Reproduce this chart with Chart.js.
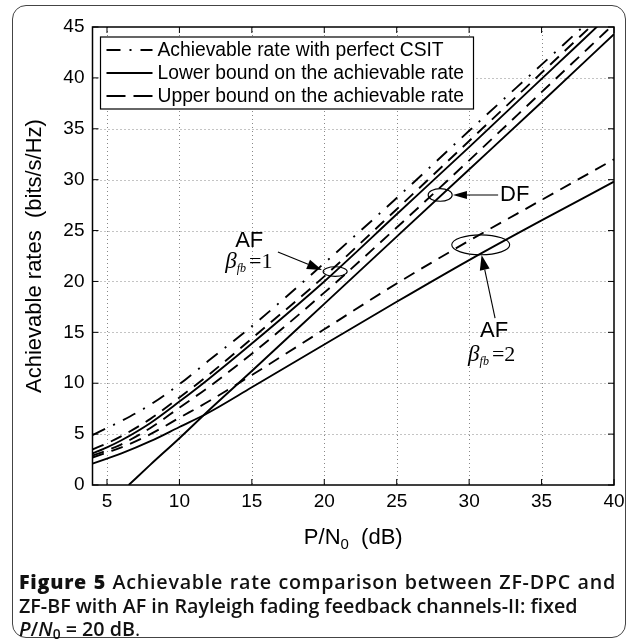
<!DOCTYPE html>
<html><head><meta charset="utf-8">
<script src="https://cdn.jsdelivr.net/npm/chart.js@4.4.0/dist/chart.umd.min.js"></script>
<style>
html,body{margin:0;padding:0;background:#fff;}
#wrap{position:relative;width:637px;height:640px;overflow:hidden;background:#fff;}
#frame{position:absolute;left:12px;top:5px;width:614px;height:633px;border:1.5px solid #444;border-radius:14px;box-sizing:border-box;}
#c{position:absolute;left:0;top:0;}
#cap{position:absolute;left:19px;width:597px;top:570px;font-family:'Open Sans',sans-serif;font-size:19.7px;line-height:23.5px;color:#111;font-weight:600;}
#cap .l{white-space:nowrap;}
#cap .j{text-align:justify;text-align-last:justify;letter-spacing:0.75px;}
#cap b{font-weight:800;}
#cap sub{font-size:70%;vertical-align:-3px;line-height:0;}
#cap .r{font-weight:400;}
</style></head>
<body><div id="wrap"><div id="frame"></div><canvas id="c" width="637" height="640" style="width:637px;height:640px"></canvas>
<div id="cap">
<div class="l j"><b>Figure 5</b> Achievable rate comparison between ZF-DPC and</div>
<div class="l">ZF-BF with AF in Rayleigh fading feedback channels-II: fixed</div>
<div class="l"><i>P</i>/<i>N</i><sub>0</sub> = 20 dB<span class="r">.</span></div>
</div></div>
<script>
// ---- data ----
const xTicks = [5, 10, 15, 20, 25, 30, 35, 40];
const yTicks = [0, 5, 10, 15, 20, 25, 30, 35, 40, 45];
const snr = [4, 5, 6, 8, 10, 12, 15, 20, 25, 30, 35, 40];
const csit     = [4.9, 5.6, 6.3, 7.9, 9.9, 12.2, 15.6, 21.8, 28.2, 34.8, 41.3, 47.8];
const af1Upper = [3.5, 4.1, 4.8, 6.5, 8.6, 10.8, 14.4, 20.5, 27.1, 33.8, 40.5, 47.2];
const af1Lower = [3.1, 3.7, 4.4, 6.1, 8.2, 10.4, 13.9, 20.0, 26.6, 33.2, 39.9, 46.6];
const dfUpper  = [2.9, 3.4, 4.0, 5.6, 7.6, 9.6, 12.9, 18.9, 25.3, 31.9, 38.6, 45.3];
const dfLowerSnr = [6.5, 8, 10, 12, 15, 20, 25, 30, 35, 40];
const dfLower  = [0, 2.0, 4.6, 7.3, 11.2, 17.8, 24.4, 31.0, 37.6, 44.3];
const af2Upper = [2.7, 3.2, 3.7, 5.0, 6.6, 8.2, 10.8, 15.3, 19.8, 24.0, 28.0, 32.0];
const af2Lower = [2.1, 2.6, 3.1, 4.3, 5.7, 7.1, 9.6, 13.8, 18.0, 22.1, 26.0, 29.8];
const legendLabels = ['Achievable rate with perfect CSIT', 'Lower bound on the achievable rate', 'Upper bound on the achievable rate'];

const DASH = [12, 8];
const DASHDOT = [14, 9, 2, 9];
const pts = (xs, ys) => xs.map((v, i) => ({x: v, y: ys[i]}));
function ds(xs, ys, dash) {
  return {data: pts(xs, ys), borderColor: '#000', borderWidth: 1.9, borderDash: dash, pointRadius: 0,
    fill: false, cubicInterpolationMode: 'monotone', clip: 0};
}

function line(ctx, x1, y1, x2, y2) { ctx.beginPath(); ctx.moveTo(x1, y1); ctx.lineTo(x2, y2); ctx.stroke(); }
function arrow(ctx, x1, y1, x2, y2, len, hw) {
  ctx.setLineDash([]); ctx.lineWidth = 1.1;
  const ang = Math.atan2(y2 - y1, x2 - x1);
  const bx = x2 - len * Math.cos(ang), by = y2 - len * Math.sin(ang);
  line(ctx, x1, y1, bx, by);
  ctx.beginPath(); ctx.moveTo(x2, y2);
  ctx.lineTo(bx + hw * Math.sin(ang), by - hw * Math.cos(ang));
  ctx.lineTo(bx - hw * Math.sin(ang), by + hw * Math.cos(ang));
  ctx.closePath(); ctx.fill();
}

const matlab = {
  id: 'matlab',
  beforeDatasetsDraw(chart) {
    const {ctx, chartArea: a, scales: {x, y}} = chart;
    ctx.save();
    ctx.strokeStyle = '#888'; ctx.lineWidth = 1; ctx.setLineDash([1, 3]);
    xTicks.forEach(v => { if (v <= 4 || v >= 40) return; const p = Math.round(x.getPixelForValue(v)) + 0.5; line(ctx, p, a.top, p, a.bottom); });
    yTicks.forEach(v => { if (v <= 0 || v >= 45) return; const p = Math.round(y.getPixelForValue(v)) + 0.5; line(ctx, a.left, p, a.right, p); });
    ctx.restore();
  },
  afterDatasetsDraw(chart) {
    const {ctx, chartArea: a, scales: {x, y}} = chart;
    const X = v => x.getPixelForValue(v), Y = v => y.getPixelForValue(v);
    ctx.save();
    ctx.setLineDash([]); ctx.strokeStyle = '#000'; ctx.fillStyle = '#000';
    // inward ticks
    ctx.lineWidth = 1;
    xTicks.forEach(v => { const p = X(v); line(ctx, p, a.bottom, p, a.bottom - 6); line(ctx, p, a.top, p, a.top + 6); });
    yTicks.forEach(v => { const p = Y(v); line(ctx, a.left, p, a.left + 6, p); line(ctx, a.right, p, a.right - 6, p); });
    // box
    ctx.lineWidth = 1.5;
    ctx.strokeRect(a.left, a.top, a.right - a.left, a.bottom - a.top);

    // legend
    const lx = a.left + 8, ly = a.top + 10, lw = 373, lh = 72;
    ctx.fillStyle = '#fff'; ctx.fillRect(lx, ly, lw, lh);
    ctx.lineWidth = 1.2; ctx.strokeStyle = '#000'; ctx.strokeRect(lx, ly, lw, lh);
    ctx.fillStyle = '#000';
    ctx.font = '19.3px "Liberation Sans", Arial, sans-serif';
    ctx.textBaseline = 'middle'; ctx.textAlign = 'left';
    const legDash = [[14, 9, 2, 9], [], [19, 8]];
    legendLabels.forEach((t, i) => {
      const cy = ly + 13 + i * 23;
      ctx.lineWidth = 1.9; ctx.setLineDash(legDash[i]);
      line(ctx, lx + 6, cy, lx + 52, cy);
      ctx.setLineDash([]);
      ctx.fillText(t, lx + 57, cy + 1);
    });

    // annotations
    ctx.lineWidth = 1.1; ctx.setLineDash([]);
    const ell = (cx, cy, rx, ry) => { ctx.beginPath(); ctx.ellipse(X(cx), Y(cy), Math.abs(X(cx + rx) - X(cx)), Math.abs(Y(cy + ry) - Y(cy)), 0, 0, Math.PI * 2); ctx.stroke(); };
    ell(20.75, 20.97, 0.83, 0.47);
    ell(28.0, 28.5, 0.83, 0.62);
    ell(30.8, 23.6, 2.0, 0.98);
    arrow(ctx, X(16.8), Y(22.9), X(19.84), Y(21.12), 15, 5);
    arrow(ctx, X(32.0), Y(28.5), X(28.88), Y(28.5), 14, 4);
    arrow(ctx, X(31.79), Y(16.4), X(30.86), Y(22.6), 15, 5);

    ctx.textBaseline = 'middle'; ctx.textAlign = 'center';
    ctx.font = '22px "Liberation Sans", Arial, sans-serif';
    ctx.fillText('AF', X(14.82), Y(23.97));
    ctx.fillText('DF', X(33.15), Y(28.49));
    ctx.fillText('AF', X(31.72), Y(15.12));
    const beta = (x0, y0, val) => {
      ctx.textAlign = 'left'; ctx.textBaseline = 'alphabetic';
      let px = X(x0), py = Y(y0);
      ctx.font = 'italic 23px "Liberation Serif", "Times New Roman", serif';
      ctx.fillText('\u03b2', px, py); px += ctx.measureText('\u03b2').width;
      ctx.font = 'italic 12px "Liberation Serif", "Times New Roman", serif';
      ctx.fillText('fb', px, py + 4); px += ctx.measureText('fb').width + 3;
      ctx.font = '22px "Liberation Serif", "Times New Roman", serif';
      ctx.fillText('=' + val, px, py);
    };
    beta(13.16, 21.3, '1');
    beta(29.93, 12.2, '2');

    // axis titles
    const TF = '22px "Liberation Sans", Arial, sans-serif', SF = '15px "Liberation Sans", Arial, sans-serif';
    ctx.fillStyle = '#000'; ctx.textAlign = 'left'; ctx.textBaseline = 'middle';
    const t1 = 'P/N', t2 = '  (dB)';
    ctx.font = TF;
    const w1 = ctx.measureText(t1).width, w2 = ctx.measureText(t2).width;
    ctx.font = SF;
    const w0 = ctx.measureText('0').width;
    let sx = (a.left + a.right) / 2 - (w1 + w0 + w2) / 2;
    const ty = 538;
    ctx.font = TF; ctx.fillText(t1, sx, ty); sx += w1;
    ctx.font = SF; ctx.fillText('0', sx, ty + 7); sx += w0;
    ctx.font = TF; ctx.fillText(t2, sx, ty);

    ctx.translate(35, (a.top + a.bottom) / 2);
    ctx.rotate(-Math.PI / 2);
    ctx.textAlign = 'center';
    ctx.font = TF;
    ctx.fillText('Achievable rates  (bits/s/Hz)', 0, 0);
    ctx.restore();
  }
};

new Chart(document.getElementById('c'), {
  type: 'line',
  data: {
    datasets: [
      ds(snr, csit, DASHDOT),
      ds(snr, af1Upper, DASH),
      ds(snr, af1Lower, []),
      ds(snr, dfUpper, DASH),
      ds(dfLowerSnr, dfLower, []),
      ds(snr, af2Upper, DASH),
      ds(snr, af2Lower, [])
    ]
  },
  options: {
    responsive: false, animation: false, devicePixelRatio: 1,
    layout: {padding: {left: 0, right: 23, top: 27, bottom: 105}},
    plugins: {legend: {display: false}, tooltip: {enabled: false}},
    scales: {
      x: {
        type: 'linear', min: 4, max: 40,
        afterBuildTicks: s => { s.ticks = xTicks.map(v => ({value: v})); },
        afterFit: s => { s.height = 50; },
        grid: {display: false, drawTicks: false}, border: {display: false},
        ticks: {color: '#000', padding: 5, maxRotation: 0, autoSkip: false, font: {family: '"Liberation Sans", Arial, sans-serif', size: 19}}
      },
      y: {
        type: 'linear', min: 0, max: 45,
        afterBuildTicks: s => { s.ticks = yTicks.map(v => ({value: v})); },
        afterFit: s => { s.width = 92.5; },
        grid: {display: false, drawTicks: false}, border: {display: false},
        ticks: {color: '#000', padding: 8, autoSkip: false, font: {family: '"Liberation Sans", Arial, sans-serif', size: 19}}
      }
    }
  },
  plugins: [matlab]
});
</script>
</body></html>
